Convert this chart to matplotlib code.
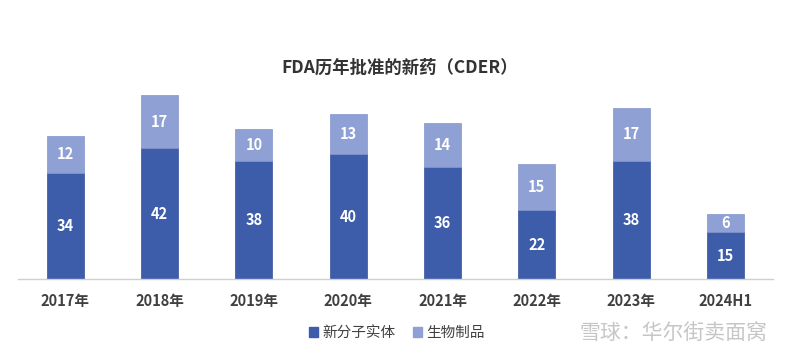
import numpy as np
import matplotlib.pyplot as plt
from matplotlib.patches import Patch

plt.rcParams['font.family'] = ['Noto Sans CJK SC', 'DejaVu Sans']

years = ['2017年', '2018年', '2019年', '2020年', '2021年', '2022年', '2023年', '2024H1']
nme = [34, 42, 38, 40, 36, 22, 38, 15]        # 新分子实体
bio = [12, 17, 10, 13, 14, 15, 17, 6]         # 生物制品

c_dark = '#3d5dab'
c_light = '#8fa0d4'

fig = plt.figure(figsize=(7.91, 3.57), dpi=100)
ax = fig.add_axes([0.0228, 0.2185, 0.954, 0.524])

x = np.arange(len(years))
w = 0.39
ax.bar(x, nme, w, color=c_dark, edgecolor='#36529c', linewidth=0.5)
ax.bar(x, bio, w, bottom=nme, color=c_light, edgecolor='#8294cc', linewidth=0.5)

for i in range(len(years)):
    ax.text(x[i], nme[i] / 2, str(nme[i]), ha='center', va='center',
            color='white', fontsize=10.5, fontweight='bold')
    ax.text(x[i], nme[i] + bio[i] / 2, str(bio[i]), ha='center', va='center',
            color='white', fontsize=10.5, fontweight='bold')

ax.set_xlim(-0.5, len(years) - 0.5)
ax.set_ylim(0, 60)
ax.set_yticks([])
ax.set_xticks(x)
ax.set_xticklabels(years, fontsize=10.5, color='#404040', fontweight='bold')
ax.tick_params(axis='x', length=0, pad=10)
for s in ['top', 'right', 'left']:
    ax.spines[s].set_visible(False)
ax.spines['bottom'].set_color('#cfcfcf')
ax.spines['bottom'].set_linewidth(1)

fig.text(0.505, 0.81, 'FDA历年批准的新药（CDER）', ha='center', va='center',
         fontsize=12.5, color='#333333', fontweight='bold')

handles = [Patch(color=c_dark), Patch(color=c_light)]
fig.legend(handles, ['新分子实体', '生物制品'], loc='center', bbox_to_anchor=(0.502, 0.067),
           ncol=2, frameon=False, fontsize=10.5, handlelength=0.6, handleheight=0.6,
           handletextpad=0.3, columnspacing=1.2, labelcolor='#404040')

fig.text(0.97, 0.067, '雪球：华尔街卖面窝', ha='right', va='center',
         fontsize=15, color='#c6c6c6', fontweight='light')

fig.savefig('out.png', dpi=100)
